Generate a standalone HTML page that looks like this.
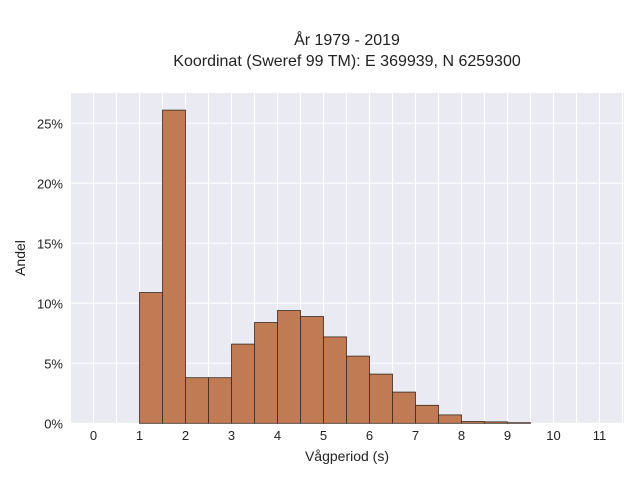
<!DOCTYPE html>
<html><head><meta charset="utf-8"><style>
body{margin:0;background:#fff;}
svg{display:block;font-family:"Liberation Sans",sans-serif;}
</style></head><body>
<svg id="chart" width="640" height="480">
<text x="347" y="45" text-anchor="middle" font-size="16" fill="#222">År 1979 - 2019</text>
<text x="347" y="66" text-anchor="middle" font-size="16" fill="#222">Koordinat (Sweref 99 TM): E 369939, N 6259300</text>
<rect x="70" y="93" width="554" height="330" fill="#eaeaf2"/>
<g id="grid"></g><g id="bars"></g><g id="ticks"></g>
<text x="347" y="461" text-anchor="middle" font-size="14" fill="#222">Vågperiod (s)</text>
<text transform="translate(25,258) rotate(-90)" text-anchor="middle" font-size="14" fill="#222">Andel</text>
</svg>
<script>
const binStarts=[1,1.5,2,2.5,3,3.5,4,4.5,5,5.5,6,6.5,7,7.5,8,8.5,9];
const shares=[10.9,26.1,3.8,3.8,6.6,8.4,9.4,8.9,7.2,5.6,4.1,2.6,1.5,0.7,0.15,0.12,0.05];
const xTicks=[0,1,2,3,4,5,6,7,8,9,10,11];
const yTicks=[0,5,10,15,20,25];
const binWidth=0.5;
const NS="http://www.w3.org/2000/svg";
const X=v=>93.5+v*46;
const Y=v=>423.3-v*12;
function mk(t,a,p){const e=document.createElementNS(NS,t);for(const k in a)e.setAttribute(k,a[k]);p.appendChild(e);return e;}
const grid=document.getElementById('grid'),bars=document.getElementById('bars'),ticks=document.getElementById('ticks');
for(let v=-0.5;v<=11.5;v+=0.5){
 const l=mk('line',{x1:X(v),x2:X(v),y1:93,y2:423,stroke:'#fff','stroke-width':1},grid);
 
 
}
yTicks.forEach(t=>{
 const l=mk('line',{x1:70,x2:624,y1:Y(t),y2:Y(t),stroke:'#fff','stroke-width':1},grid);
 
 
 const tx=mk('text',{x:63,y:Y(t)+5,'text-anchor':'end','font-size':13,fill:'#222'},ticks);
 tx.textContent=t+'%';
 
 
});
xTicks.forEach(t=>{
 const tx=mk('text',{x:X(t),y:440,'text-anchor':'middle','font-size':13,fill:'#222'},ticks);
 tx.textContent=t;
 
 
});
binStarts.forEach((b,i)=>{
 const r=mk('rect',{x:X(b),y:Y(shares[i]),width:X(b+binWidth)-X(b),height:Y(0)-Y(shares[i]),fill:'#c07b54',stroke:'#3a2a20','stroke-width':0.8},bars);
 
 
});
</script>
</body></html>
